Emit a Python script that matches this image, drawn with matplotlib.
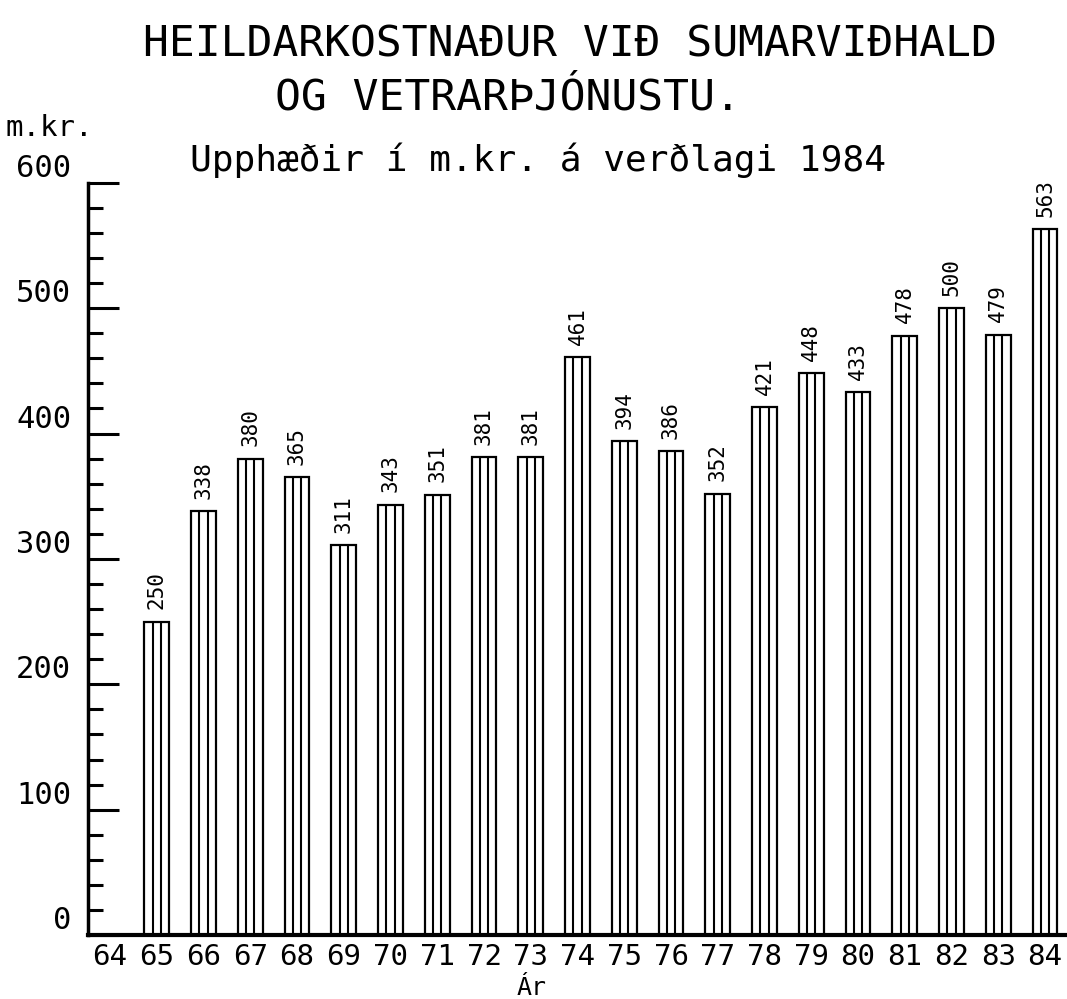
import matplotlib.pyplot as plt
from matplotlib.ticker import MultipleLocator

# data
years = [65, 66, 67, 68, 69, 70, 71, 72, 73, 74, 75, 76, 77, 78, 79, 80, 81, 82, 83, 84]
values = [250, 338, 380, 365, 311, 343, 351, 381, 381, 461, 394, 386, 352, 421, 448, 433, 478, 500, 479, 563]
xtick_years = list(range(64, 85))
yticks = [0, 100, 200, 300, 400, 500, 600]

plt.rcParams['font.family'] = ['DejaVu Sans Mono']

fig = plt.figure(figsize=(10.67, 9.99), dpi=100)
ax = fig.add_axes([0.0825, 0.064, 0.9175, 0.753])

w = 0.53
ax.bar(years, values, width=w, facecolor='white', edgecolor='black', linewidth=1.6, zorder=2)
# inner vertical stripes
for x, v in zip(years, values):
    ax.vlines([x - w / 6, x + w / 6], 0, v, colors='black', linewidth=1.5, zorder=3)
    ax.text(x, v + 10, str(v), rotation=90, ha='center', va='bottom', fontsize=15)

ax.set_xlim(63.53, 84.47)
ax.set_ylim(0, 600)
for s in ['top', 'right']:
    ax.spines[s].set_visible(False)
ax.spines['left'].set_linewidth(2.5)
ax.spines['bottom'].set_linewidth(3)

ax.set_xticks(xtick_years)
ax.set_xticklabels([str(y) for y in xtick_years], fontsize=21)
ax.tick_params(axis='x', length=0, pad=6)

ax.set_yticks(yticks)
ax.set_yticklabels([str(t) for t in yticks], fontsize=22)
ax.yaxis.set_minor_locator(MultipleLocator(20))
ax.tick_params(axis='y', which='major', direction='in', length=22, width=2.2)
ax.tick_params(axis='y', which='minor', direction='in', length=11, width=2.2)
for lab in ax.get_yticklabels():
    lab.set_verticalalignment('bottom')
    lab.set_horizontalalignment('right')
ax.yaxis.set_tick_params(pad=12)

fig.text(0.534, 0.955, 'HEILDARKOSTNAÐUR VIÐ SUMARVIÐHALD', ha='center', va='center', fontsize=31)
fig.text(0.476, 0.902, 'OG VETRARÞJÓNUSTU.', ha='center', va='center', fontsize=31)
fig.text(0.005, 0.872, 'm.kr.', ha='left', va='center', fontsize=21)
fig.text(0.504, 0.84, 'Upphæðir í m.kr. á verðlagi 1984', ha='center', va='center', fontsize=26)
fig.text(0.498, 0.011, 'Ár', ha='center', va='center', fontsize=18)

fig.savefig('out.png', dpi=100)
